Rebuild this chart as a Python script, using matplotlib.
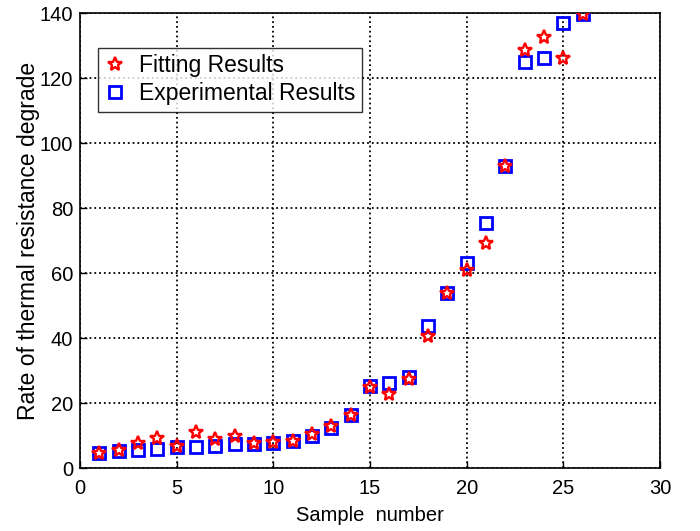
import matplotlib
matplotlib.use('Agg')
import matplotlib.pyplot as plt

# Sample index and values
samples = list(range(1, 27))
experimental = [4.5, 5.2, 5.7, 6.0, 6.6, 6.6, 6.9, 7.3, 7.4, 7.8, 8.4, 9.8, 12.2,
                16.3, 25.2, 26.1, 28.1, 43.7, 53.9, 63.0, 75.5, 93.0, 125.0,
                126.2, 137.0, 139.7]
fitting = [4.7, 5.5, 7.8, 9.3, 6.8, 11.2, 8.8, 9.9, 7.6, 7.9, 8.4, 10.4, 13.0,
           16.3, 24.9, 22.8, 27.3, 40.6, 54.0, 61.1, 69.3, 93.0, 128.8,
           132.9, 126.4, 139.7]

x_ticks = [0, 5, 10, 15, 20, 25, 30]
y_ticks = [0, 20, 40, 60, 80, 100, 120, 140]

plt.rcParams['font.family'] = ['Liberation Sans', 'DejaVu Sans']

fig = plt.figure(figsize=(7.0, 5.31), dpi=100)
ax = fig.add_axes([0.1143, 0.1186, 0.8286, 0.856])

ax.plot(samples, fitting, linestyle='none', marker='*', markersize=10,
        markerfacecolor='none', markeredgecolor='red', markeredgewidth=1.7,
        label='Fitting Results', zorder=4)
ax.plot(samples, experimental, linestyle='none', marker='s', markersize=9,
        markerfacecolor='none', markeredgecolor='blue', markeredgewidth=2.0,
        label='Experimental Results', zorder=3)

ax.set_xlim(0, 30)
ax.set_ylim(0, 140)
ax.set_xticks(x_ticks)
ax.set_yticks(y_ticks)
ax.tick_params(direction='in', labelsize=14.5, length=5, width=1)
ax.tick_params(axis='x', pad=8)
ax.tick_params(axis='y', pad=5)
ax.grid(True, color='black', linestyle=':', linewidth=1.3)
ax.set_axisbelow(True)
for sp in ax.spines.values():
    sp.set_linewidth(1.2)

ax.set_xlabel('Sample  number', fontsize=14.5, labelpad=6)
ax.set_ylabel('Rate of thermal resistance degrade', fontsize=16.5, labelpad=0)

leg = ax.legend(loc='upper left', bbox_to_anchor=(0.031, 0.925), fontsize=16.5,
                frameon=True, fancybox=False, edgecolor='black',
                handlelength=0.9, handletextpad=0.6, borderpad=0.3,
                labelspacing=0.2, borderaxespad=0)
leg.get_frame().set_linewidth(1.0)

fig.savefig('out.png', dpi=100)
